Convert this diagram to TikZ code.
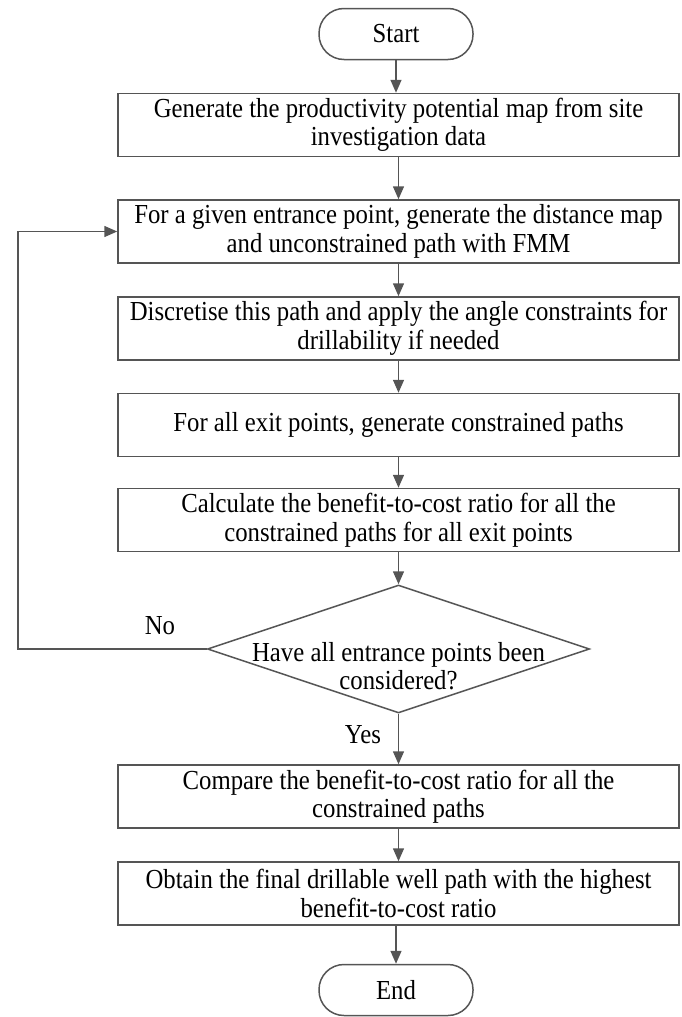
\documentclass[tikz,border=0pt]{standalone}
\usepackage{fontspec}
\setmainfont{Liberation Serif}[FakeStretch=0.9]
\usetikzlibrary{arrows.meta,shapes.geometric}
\definecolor{lc}{RGB}{85,85,85}
\begin{document}
\begin{tikzpicture}[x=1pt,y=-1pt,
  font=\fontsize{27.5}{28.5}\selectfont,
  every node/.style={text=black},
  procbox/.style={draw=lc,line width=1.5pt,rectangle,minimum width=561pt,minimum height=63pt,inner sep=1pt,align=center},
  termbox/.style={draw=lc,line width=1.5pt,rectangle,rounded corners=25pt,minimum width=154pt,minimum height=51pt,inner sep=2pt},
  decbox/.style={draw=lc,line width=1.5pt,diamond,minimum width=382pt,minimum height=128pt,inner sep=0pt},
  flow/.style={draw=lc,line width=1.5pt,-{Triangle[length=13pt,width=11pt]}}]
\useasboundingbox (0,0) rectangle (681,1017);
\node[termbox] (start) at (396,34) {Start};
\node[procbox] (b1) at (398.5,125) {Generate the productivity potential map from site\\investigation data};
\node[procbox] (b2) at (398.5,231.5) {For a given entrance point, generate the distance map\\and unconstrained path with FMM};
\node[procbox] (b3) at (398.5,328.5) {Discretise this path and apply the angle constraints for\\drillability if needed};
\node[procbox] (b4) at (398.5,425) {For all exit points, generate constrained paths};
\node[procbox] (b5) at (398.5,520) {Calculate the benefit-to-cost ratio for all the\\constrained paths for all exit points};
\node[decbox] (dec) at (398.5,649) {};
\node[align=center] (dectext) at (398.5,666) {Have all entrance points been\\considered?};
\node[procbox] (b6) at (398.5,796.5) {Compare the benefit-to-cost ratio for all the\\constrained paths};
\node[procbox] (b7) at (398.5,893.5) {Obtain the final drillable well path with the highest\\benefit-to-cost ratio};
\node[termbox] (end) at (396,990) {End};
\coordinate (lb) at (18,649);
\coordinate (lt) at (18,231.5);
\node (no) at (160,626) {No};
\node (yes) at (363,735) {Yes};
\draw[flow] (start) -- (start |- b1.north);
\draw[flow] (b1) -- (b2);
\draw[flow] (b2) -- (b3);
\draw[flow] (b3) -- (b4);
\draw[flow] (b4) -- (b5);
\draw[flow] (b5) -- (dec.north);
\draw[flow] (dec.south) -- (b6);
\draw[flow] (b6) -- (b7);
\draw[flow] (b7) -- (b7.south -| end) -- (end);
\draw[flow] (dec.west) -- (lb) -- (lt) -- (b2.west);
\end{tikzpicture}
\end{document}
